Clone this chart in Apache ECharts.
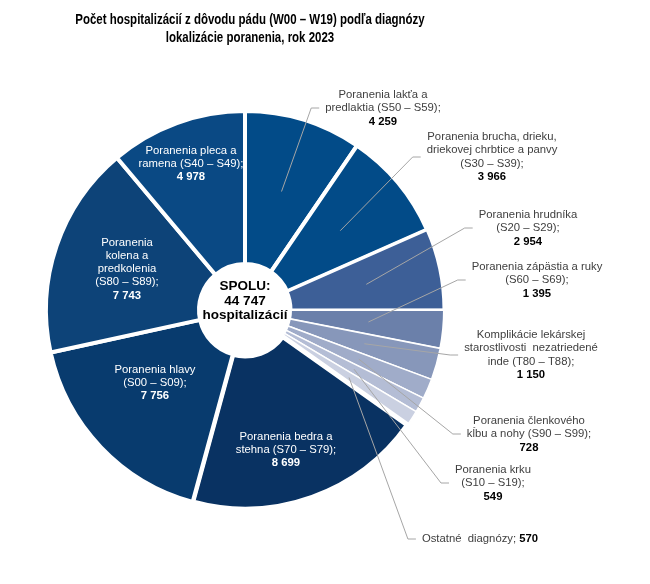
<!DOCTYPE html>
<html><head><meta charset="utf-8">
<script src="https://cdn.jsdelivr.net/npm/echarts@6/dist/echarts.min.js"></script>
<style>html,body{margin:0;padding:0;background:#fff}#c{width:650px;height:584px}</style>
</head><body><div id="c"></div>
<script>
// ---- data ----
const categories = [
  'Poranenia lakťa a\npredlaktia (S50 – S59);',
  'Poranenia brucha, drieku,\ndriekovej chrbtice a panvy\n(S30 – S39);',
  'Poranenia hrudníka\n(S20 – S29);',
  'Poranenia zápästia a ruky\n(S60 – S69);',
  'Komplikácie lekárskej\nstarostlivosti  nezatriedené\ninde (T80 – T88);',
  'Poranenia členkového\nkĺbu a nohy (S90 – S99);',
  'Poranenia krku\n(S10 – S19);',
  'Ostatné  diagnózy;',
  'Poranenia bedra a\nstehna (S70 – S79);',
  'Poranenia hlavy\n(S00 – S09);',
  'Poranenia\nkolena a\npredkolenia\n(S80 – S89);',
  'Poranenia pleca a\nramena (S40 – S49);'
];
const values = [4259, 3966, 2954, 1395, 1150, 728, 549, 570, 8699, 7756, 7743, 4978];
const centerText = ['SPOLU:', '44 747', 'hospitalizácií'];
const titleText = ['Počet hospitalizácií z dôvodu pádu (W00 – W19) podľa diagnózy', 'lokalizácie poranenia, rok 2023'];

// ---- styles / layout ----
const colors = ['#024b88', '#024b88', '#3d5f97', '#6b80aa', '#8797ba', '#a0acc9', '#b4bdd5', '#cad0e1',
                '#093262', '#083b6e', '#0d4378', '#0a4984'];
const borderW = [4, 4, 3, 2, 1.5, 1.5, 1.5, 1.5, 5, 4, 4, 4];
const inside = [false, false, false, false, false, false, false, false, true, true, true, true];
const inlineValue = [false, false, false, false, false, false, false, true, false, false, false, false];
const labelCenters = [[383,108],[492,157],[528,228],[537,280],[531,355],[529,434],[493,483],[480,539],
                      [286,450],[155,383],[127,269],[191,164]];
const CX = 245, CY = 310;
const LINE_R = 124;

const fmt = v => String(v).replace(/\B(?=(\d{3})+(?!\d))/g, ' ');
const total = values.reduce((a, b) => a + b, 0);

const chart = echarts.init(document.getElementById('c'), null, {renderer: 'canvas'});

const mainData = values.map((v, i) => ({
  name: categories[i], value: v,
  itemStyle: {color: colors[i], borderColor: '#ffffff', borderWidth: borderW[i]}
}));
const overlayData = values.map((v, i) => ({
  name: categories[i], value: v,
  labelLine: {show: !inside[i]}
}));

function labelFormatter(p) {
  const i = p.dataIndex;
  const nk = inside[i] ? 'ni' : 'n';
  const bk = inside[i] ? 'bi' : 'b';
  if (inlineValue[i]) return '{' + nk + '|' + p.name + ' }{' + bk + '|' + fmt(p.value) + '}';
  return p.name.split('\n').map(s => '{' + nk + '|' + s + '}').join('\n') + '\n{' + bk + '|' + fmt(p.value) + '}';
}

const FONT = "'Liberation Sans', Arial, sans-serif";

chart.setOption({
  animation: false,
  backgroundColor: '#ffffff',
  series: [
    {
      type: 'pie', center: [CX, CY], radius: [46, 199], startAngle: 90, clockwise: true,
      avoidLabelOverlap: false, silent: true, z: 2,
      label: {show: false}, labelLine: {show: false},
      emphasis: {disabled: true},
      data: mainData
    },
    {
      type: 'pie', center: [CX, CY], radius: [0, LINE_R], startAngle: 90, clockwise: true,
      avoidLabelOverlap: false, silent: true, z: 6,
      itemStyle: {color: 'rgba(0,0,0,0)', borderWidth: 0},
      emphasis: {disabled: true},
      label: {
        show: true, position: 'outside', formatter: labelFormatter,
        rich: {
          n: {fontFamily: FONT, fontSize: 11.3, color: '#404040', lineHeight: 13.5},
          b: {fontFamily: FONT, fontSize: 11.3, color: '#000000', fontWeight: 'bold', lineHeight: 13.5},
          ni: {fontFamily: FONT, fontSize: 11.3, color: '#ffffff', lineHeight: 13.3},
          bi: {fontFamily: FONT, fontSize: 11.3, color: '#ffffff', fontWeight: 'bold', lineHeight: 13.3}
        }
      },
      labelLine: {show: true, length: 10, length2: 8, lineStyle: {color: '#a6a6a6', width: 1}},
      labelLayout: function (params) {
        const i = params.dataIndex;
        const c = labelCenters[i];
        const res = {x: c[0], y: c[1], align: 'center', verticalAlign: 'middle'};
        if (!inside[i]) {
          const w = params.labelRect.width;
          const ex = c[0] - w / 2 - 6;
          let cum = 0;
          for (let k = 0; k < i; k++) cum += values[k];
          const a = (cum + values[i] / 2) / total * Math.PI * 2;
          const start = [CX + LINE_R * Math.sin(a), CY - LINE_R * Math.cos(a)];
          res.labelLinePoints = [start, [ex - 8, c[1]], [ex, c[1]]];
        }
        return res;
      },
      data: overlayData
    }
  ],
  graphic: [
    {
      type: 'text', x: 250, y: 29, silent: true, scaleX: 0.82,
      style: {
        text: titleText.join('\n'), textAlign: 'center', textVerticalAlign: 'middle',
        fill: '#000000', lineHeight: 18,
        font: "bold 14px 'Liberation Sans', Arial, sans-serif"
      }
    },
    {
      type: 'text', x: CX, y: 301, silent: true, z: 100,
      style: {
        text: centerText.join('\n'), textAlign: 'center', textVerticalAlign: 'middle',
        fill: '#000000', lineHeight: 14.5,
        font: "bold 13.5px 'Liberation Sans', Arial, sans-serif"
      }
    }
  ]
});
</script>
</body></html>
